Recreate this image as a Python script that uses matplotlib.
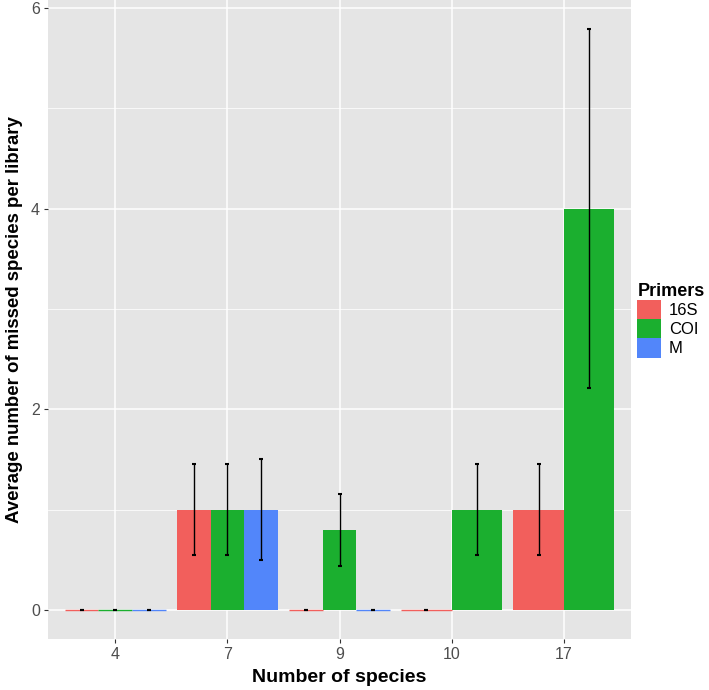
import numpy as np
import matplotlib
matplotlib.use("Agg")
import matplotlib.pyplot as plt
from matplotlib.patches import Patch

species = ['4', '7', '9', '10', '17']
primers = ['16S', 'COI', 'M']
mean_16S = [0, 1, 0, 0, 1]
mean_COI = [0, 1, 0.8, 1, 4]
mean_M = [0, 1, 0, None, None]
err_16S = [0, 0.45, 0, 0, 0.45]
err_COI = [0, 0.45, 0.36, 0.45, 1.79]
err_M = [0, 0.5, 0, None, None]

colors = {'16S': '#F25F5C', 'COI': '#1BAF2F', 'M': '#5286FA'}
means = {'16S': mean_16S, 'COI': mean_COI, 'M': mean_M}
errs = {'16S': err_16S, 'COI': err_COI, 'M': err_M}

plt.rcParams['font.family'] = ['Liberation Sans', 'DejaVu Sans']

fig = plt.figure(figsize=(7.09, 6.90), dpi=100)
ax = fig.add_axes([48/709, 1-639/690, (631-48)/709, 639/690])
ax.set_facecolor('#E5E5E5')
for s in ax.spines.values():
    s.set_visible(False)

dodge = 0.9
for i, sp in enumerate(species):
    present = [p for p in primers if means[p][i] is not None]
    n = len(present)
    w = dodge / n
    for j, p in enumerate(present):
        x = (i + 1) - dodge / 2 + w * (j + 0.5)
        v = means[p][i]
        ax.bar(x, v, width=w, color=colors[p], edgecolor=colors[p],
               linewidth=1.0 if v == 0 else 0, zorder=2)
        ax.errorbar(x, v, yerr=errs[p][i], fmt='none', ecolor='black',
                    elinewidth=1.0, capsize=1.6, capthick=1.5, zorder=3)

ax.set_xlim(0.4, 5.6)
ax.set_ylim(-0.29, 6.08)
ax.set_xticks(range(1, len(species) + 1))
ax.set_xticklabels(species)
ax.set_yticks([0, 2, 4, 6])
ax.set_yticks([1, 3, 5], minor=True)
ax.grid(True, which='major', color='white', linewidth=1.1, zorder=0)
ax.grid(True, which='minor', axis='y', color='white', linewidth=0.55, zorder=0)
ax.set_axisbelow(True)
ax.tick_params(which='major', length=2.75, width=0.8, color='#333333',
               labelcolor='#4D4D4D', labelsize=11.5, pad=3)
ax.tick_params(which='minor', length=0)

ax.set_xlabel('Number of species', fontsize=14, fontweight='bold', labelpad=5)
ax.set_ylabel('Average number of missed species per library', fontsize=13.4,
              fontweight='bold', labelpad=6)

handles = [Patch(facecolor=colors[p], edgecolor='none', label=p) for p in primers]
leg = fig.legend(handles=handles, title='Primers', loc='center left',
                 bbox_to_anchor=(0.899, 0.536), frameon=False, fontsize=12,
                 title_fontproperties={'weight': 'bold', 'size': 13},
                 handlelength=1.4, handleheight=1.4, labelspacing=0.0,
                 handletextpad=0.5, borderaxespad=0, borderpad=0)
leg._legend_box.align = 'left'

fig.savefig('out.png', dpi=100)
